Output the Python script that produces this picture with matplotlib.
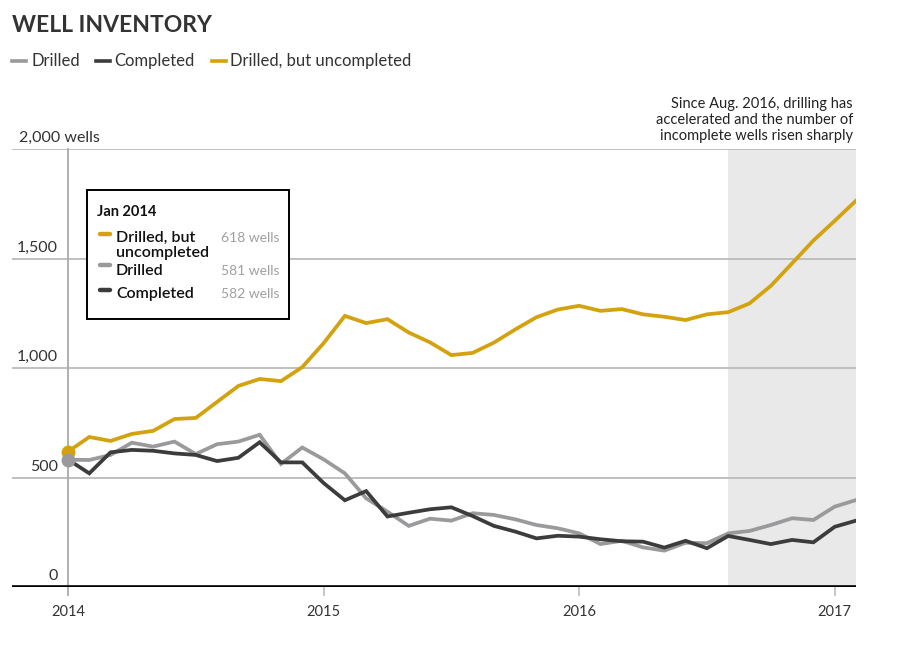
import matplotlib
matplotlib.use("Agg")
import matplotlib.pyplot as plt
from matplotlib.patches import Rectangle
from matplotlib.lines import Line2D

plt.rcParams['font.family'] = ['Lato', 'DejaVu Sans']

# ---- data (monthly, Jan 2014 .. Feb 2017) ----
months = list(range(38))  # 0 = Jan 2014
drilled = [581, 580, 603, 659, 641, 664, 607, 652, 664, 695, 562, 637,
           583, 519, 405, 344, 279, 312, 303, 337, 329, 309, 283, 268,
           245, 196, 211, 181, 166, 202, 200, 245, 256, 283, 314, 306,
           367, 397]
completed = [582, 519, 615, 626, 622, 610, 603, 575, 590, 661, 569, 569,
             475, 396, 438, 322, 339, 355, 364, 324, 279, 253, 222, 234,
             230, 218, 209, 207, 180, 211, 177, 233, 215, 196, 215, 204,
             275, 303]
duc = [618, 685, 667, 699, 713, 767, 772, 845, 918, 950, 940, 1004,
       1113, 1238, 1205, 1223, 1162, 1117, 1059, 1069, 1116, 1176, 1232, 1267,
       1284, 1261, 1269, 1245, 1234, 1219, 1245, 1255, 1295, 1375, 1478, 1582,
       1672, 1764]
year_ticks = [0, 12, 24, 36]
year_labels = ['2014', '2015', '2016', '2017']
y_ticks = [0, 500, 1000, 1500, 2000]
y_labels = ['0', '500', '1,000', '1,500', '2,000 wells']
shade_start = 31  # Aug 2016
series_names = ['Drilled', 'Completed', 'Drilled, but uncompleted']

GOLD = '#d4a20f'
LGRAY = '#9a9a9c'
DGRAY = '#3c3c3c'
TXT = '#333333'

W, H = 897, 653
fig = plt.figure(figsize=(W / 100, H / 100), dpi=100)


def fx(x):
    return x / W


def fy(y):
    return 1 - y / H


ax_l, ax_r, ax_t, ax_b = 12, 856, 149, 587
ax = fig.add_axes([fx(ax_l), fy(ax_b), fx(ax_r) - fx(ax_l), fy(ax_t) - fy(ax_b)])
px_per_month = (835 - 68) / 36.0
ax.set_xlim((ax_l - 68) / px_per_month, months[-1])
ax.set_ylim(0, 2000)
for s in ax.spines.values():
    s.set_visible(False)
ax.set_xticks([])
ax.set_yticks([])
ax.patch.set_alpha(0)

# shaded period
ax.axvspan(shade_start, months[-1], color='#e9e9e9', zorder=0, lw=0)

# gridlines
for v in y_ticks[1:]:
    ax.axhline(v, color='#bbbbbb', lw=1.3, zorder=1)
# y-axis line at Jan 2014
ax.plot([0, 0], [-35, 2000], color='#aaaaaa', lw=1.3, zorder=1, clip_on=False)
# small ticks for other years
for t in year_ticks[1:]:
    ax.plot([t, t], [-35, 0], color='#bbbbbb', lw=1.2, zorder=1, clip_on=False)
# baseline
ax.axhline(0, color='black', lw=2.6, zorder=5)

# lines
ax.plot(months, drilled, color=LGRAY, lw=2.7, zorder=3, solid_joinstyle='miter')
ax.plot(months, completed, color=DGRAY, lw=2.7, zorder=3, solid_joinstyle='miter')
ax.plot(months, duc, color=GOLD, lw=2.7, zorder=4, solid_joinstyle='miter')
ax.plot([months[0]], [duc[0]], 'o', color=GOLD, ms=9, zorder=6)
ax.plot([months[0]], [drilled[0]], 'o', color=LGRAY, ms=9, zorder=6)

# y tick labels
for v, lab in zip(y_ticks, y_labels):
    if v == 2000:
        ax.text((19 - 68) / px_per_month, v + 18, lab, ha='left', va='bottom',
                fontsize=11.5, color=TXT)
    else:
        ax.text((58 - 68) / px_per_month, v + 18, lab, ha='right', va='bottom',
                fontsize=11.5, color=TXT)
# x tick labels
for t, lab in zip(year_ticks, year_labels):
    ax.text(t, -115, lab, ha='center', va='center', fontsize=10.5, color=TXT)

# title
fig.text(fx(12), fy(25), 'WELL INVENTORY', fontsize=16.5, fontweight='bold',
         color=TXT, ha='left', va='center')

# top legend
leg_items = [(12, 31, series_names[0], LGRAY), (96, 114, series_names[1], DGRAY),
             (212, 230, series_names[2], GOLD)]
for x0, xt, name, c in leg_items:
    fig.add_artist(Line2D([fx(x0), fx(x0 + 14)], [fy(61), fy(61)], color=c, lw=2.6,
                          transform=fig.transFigure))
    fig.text(fx(xt), fy(61), name, fontsize=12, color=TXT, ha='left', va='center')

# annotation
ann = 'Since Aug. 2016, drilling has\naccelerated and the number of\nincomplete wells risen sharply'
fig.text(fx(853), fy(120), ann, fontsize=10.5, color='#222222', ha='right', va='center',
         linespacing=1.17)

# tooltip box
fig.add_artist(Rectangle((fx(87), fy(319)), fx(289) - fx(87), fy(190) - fy(319),
                         transform=fig.transFigure, facecolor='white',
                         edgecolor='black', lw=1.4, zorder=10))
fig.text(fx(97), fy(212), 'Jan 2014', fontsize=10.5, fontweight='bold', color='#111111',
         ha='left', va='center', zorder=11)
tip = [(234, [(238, 'Drilled, but'), (253, 'uncompleted')], 238, f'{duc[0]} wells', GOLD),
       (265, [(271, 'Drilled')], 271, f'{drilled[0]} wells', LGRAY),
       (290, [(294, 'Completed')], 294, f'{completed[0]} wells', DGRAY)]
for my, labs, vy, val, c in tip:
    fig.add_artist(Line2D([fx(100), fx(110)], [fy(my), fy(my)], color=c, lw=3.2,
                          solid_capstyle='round', transform=fig.transFigure, zorder=11))
    for ly, lt in labs:
        fig.text(fx(116), fy(ly), lt, fontsize=11.5, fontweight='semibold', color='#111111',
                 ha='left', va='center', zorder=11)
    fig.text(fx(279), fy(vy), val, fontsize=10, color='#a0a0a0', ha='right',
             va='center', zorder=11)

fig.savefig('out.png', dpi=100)
